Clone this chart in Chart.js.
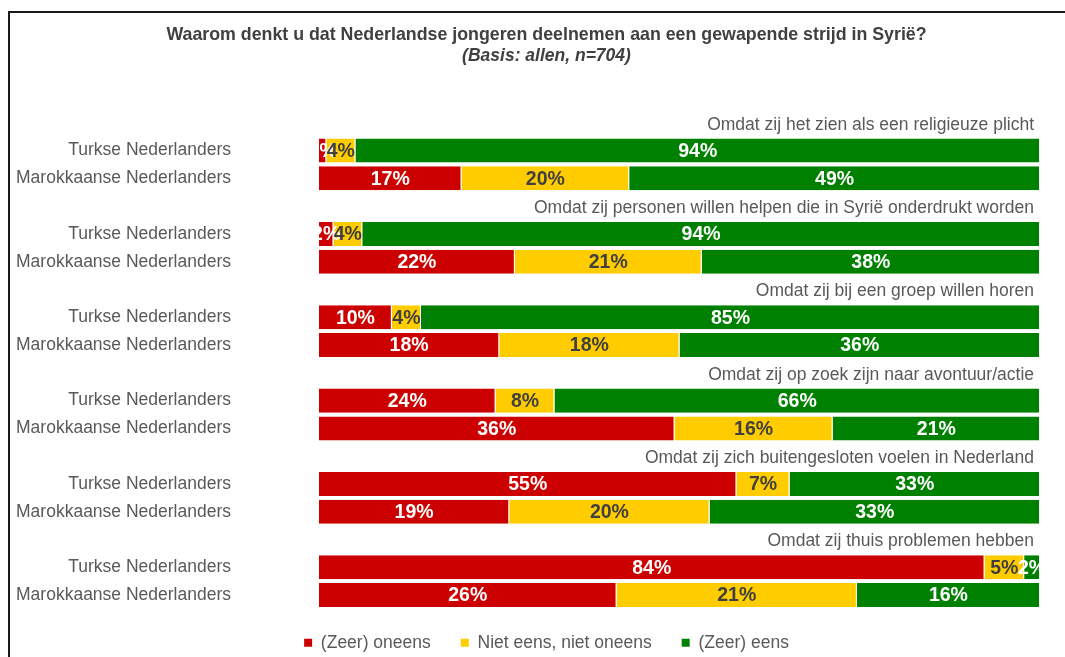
<!DOCTYPE html>
<html>
<head>
<meta charset="utf-8">
<script src="https://cdn.jsdelivr.net/npm/chart.js@4.4.1/dist/chart.umd.min.js"></script>
<style>
html,body{margin:0;padding:0;background:#fff;}
#wrap{width:1065px;height:657px;position:relative;}
</style>
</head>
<body>
<div id="wrap"><canvas id="c" width="1065" height="657"></canvas></div>
<script>
// ---- data ----
const questions = [
  'Omdat zij het zien als een religieuze plicht',
  'Omdat zij personen willen helpen die in Syrië onderdrukt worden',
  'Omdat zij bij een groep willen horen',
  'Omdat zij op zoek zijn naar avontuur/actie',
  'Omdat zij zich buitengesloten voelen in Nederland',
  'Omdat zij thuis problemen hebben'
];
const groups = ['Turkse Nederlanders', 'Marokkaanse Nederlanders'];
const seriesNames = ['(Zeer) oneens', 'Niet eens, niet oneens', '(Zeer) eens'];
const oneensTurks = [1, 2, 10, 24, 55, 84];
const oneensMarok = [17, 22, 18, 36, 19, 26];
const neutraalTurks = [4, 4, 4, 8, 7, 5];
const neutraalMarok = [20, 21, 18, 16, 20, 21];
const eensTurks = [94, 94, 85, 66, 33, 2];
const eensMarok = [49, 38, 36, 21, 33, 16];
const seriesColors = ['#CC0000', '#FFCC00', '#008000'];
const labelColors = ['#ffffff', '#404040', '#ffffff'];

// ---- build rows: question row (empty), Turkse row, Marokkaanse row ----
const rowLabels = [];
const rawRows = [[], [], []];
const turks = [oneensTurks, neutraalTurks, eensTurks];
const marok = [oneensMarok, neutraalMarok, eensMarok];
questions.forEach((q, i) => {
  rowLabels.push('');
  rawRows.forEach(r => r.push(null));
  rowLabels.push(groups[0]);
  rawRows.forEach((r, s) => r.push(turks[s][i]));
  rowLabels.push(groups[1]);
  rawRows.forEach((r, s) => r.push(marok[s][i]));
});
const rowTotals = rowLabels.map((_, i) => rawRows.reduce((a, r) => a + (r[i] || 0), 0));
const datasets = seriesNames.map((name, s) => ({
  label: name,
  data: rawRows[s].map((v, i) => v == null ? null : v / rowTotals[i] * 100),
  rawValues: rawRows[s],
  backgroundColor: seriesColors[s],
  borderColor: '#ffffff',
  borderWidth: {top: 0, bottom: 0, left: 0, right: 1},
  borderSkipped: false,
  barPercentage: 0.865,
  categoryPercentage: 1
}));

const FONT = '"Liberation Sans", Arial, Helvetica, sans-serif';

const framePlugin = {
  id: 'frame',
  beforeDraw(chart) {
    const ctx = chart.ctx;
    ctx.save();
    ctx.fillStyle = '#ffffff';
    ctx.fillRect(0, 0, chart.width, chart.height);
    ctx.strokeStyle = '#1a1a1a';
    ctx.lineWidth = 2;
    ctx.beginPath();
    ctx.moveTo(9, chart.height);
    ctx.lineTo(9, 12);
    ctx.lineTo(chart.width, 12);
    ctx.stroke();
    ctx.restore();
  }
};

const layoutTweaks = {
  id: 'layoutTweaks',
  afterLayout(chart) {
    const lg = chart.legend;
    if (lg) { lg.top -= 5; lg.bottom -= 5; }
    // let the long category labels extend left of the layout padding
    chart.scales.y.left = 10;
  }
};

const valueLabels = {
  id: 'valueLabels',
  afterDatasetsDraw(chart) {
    const ctx = chart.ctx;
    ctx.save();
    ctx.font = 'bold 19.5px ' + FONT;
    ctx.textAlign = 'center';
    ctx.textBaseline = 'middle';
    chart.data.datasets.forEach((ds, di) => {
      const meta = chart.getDatasetMeta(di);
      ctx.fillStyle = labelColors[di];
      meta.data.forEach((el, i) => {
        const raw = ds.rawValues[i];
        if (raw == null) return;
        const p = el.getProps(['x', 'y', 'base'], true);
        ctx.fillText(raw + '%', (p.x + p.base) / 2, p.y + 1);
      });
    });
    ctx.restore();
  }
};

const questionLabels = {
  id: 'questionLabels',
  afterDraw(chart) {
    const ctx = chart.ctx;
    const y = chart.scales.y;
    ctx.save();
    ctx.font = '17.5px ' + FONT;
    ctx.fillStyle = '#595959';
    ctx.textAlign = 'right';
    ctx.textBaseline = 'middle';
    questions.forEach((q, i) => {
      ctx.fillText(q, chart.chartArea.right - 6, y.getPixelForValue(i * 3) + 2);
    });
    ctx.restore();
  }
};

new Chart(document.getElementById('c'), {
  type: 'bar',
  data: { labels: rowLabels, datasets },
  options: {
    indexAxis: 'y',
    responsive: false,
    animation: false,
    devicePixelRatio: 1,
    layout: { padding: { left: 53, right: 25, top: 0, bottom: 0 } },
    scales: {
      x: { stacked: true, min: 0, max: 100, display: false },
      y: {
        stacked: true,
        grid: { display: false, drawTicks: false, tickLength: 0 },
        border: { display: false },
        ticks: {
          autoSkip: false,
          padding: 88,
          color: '#595959',
          font: { family: FONT, size: 17.5 }
        },
        afterFit(scale) {
          scale.width = 266;
          scale.paddingTop = 0;
          scale.paddingBottom = 0;
        }
      }
    },
    plugins: {
      tooltip: { enabled: false },
      title: {
        display: true,
        text: 'Waarom denkt u dat Nederlandse jongeren deelnemen aan een gewapende strijd in Syrië?',
        color: '#404040',
        font: { family: FONT, size: 17.8, weight: 'bold', lineHeight: 1.2 },
        padding: { top: 24.5, bottom: 0 }
      },
      subtitle: {
        display: true,
        text: '(Basis: allen, n=704)',
        color: '#404040',
        font: { family: FONT, size: 17.5, weight: 'bold', style: 'italic', lineHeight: 1.2 },
        padding: { top: 0, bottom: 42 }
      },
      legend: {
        position: 'bottom',
        maxHeight: 48,
        labels: {
          boxWidth: 8,
          boxHeight: 8,
          padding: 30,
          color: '#595959',
          font: { family: FONT, size: 17.5 },
          generateLabels: (chart) => chart.data.datasets.map((ds, i) => ({
            text: ds.label,
            fillStyle: ds.backgroundColor,
            strokeStyle: ds.backgroundColor,
            lineWidth: 0,
            hidden: false,
            datasetIndex: i,
            fontColor: '#595959'
          }))
        }
      }
    }
  },
  plugins: [framePlugin, layoutTweaks, valueLabels, questionLabels]
});
</script>
</body>
</html>
